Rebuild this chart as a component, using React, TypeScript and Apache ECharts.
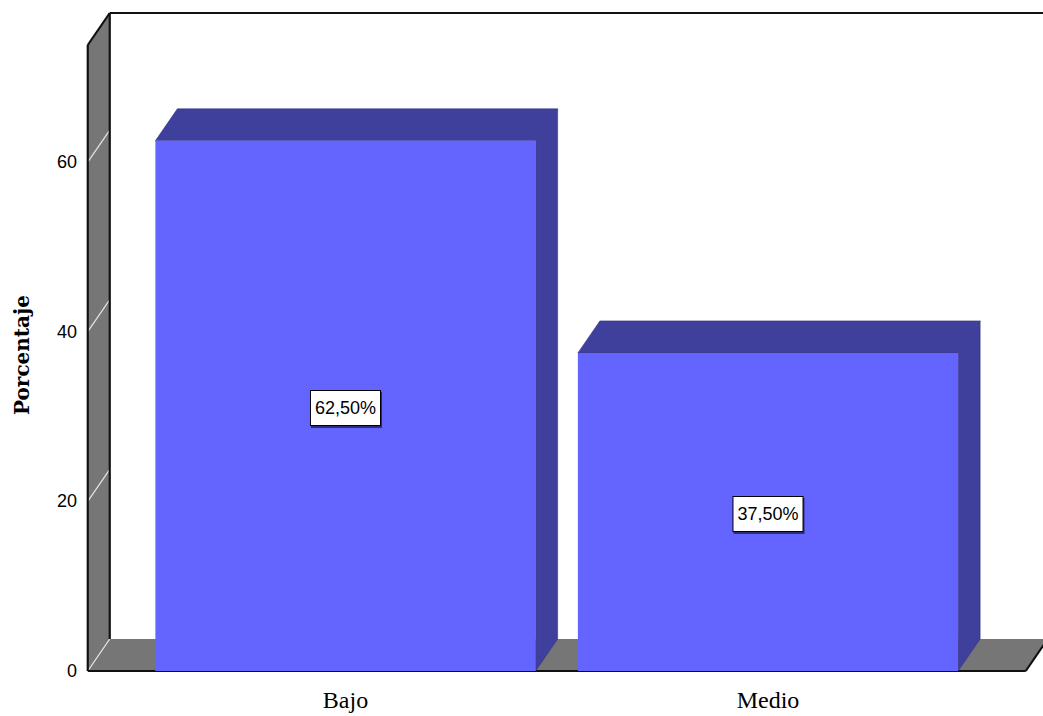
import React, { useEffect, useRef } from "react";
import * as echarts from "echarts";

const CATEGORIES = ["Bajo", "Medio"];
const PERCENTAGES = [62.5, 37.5];
const Y_TICKS = [0, 20, 40, 60];
const Y_MAX = 73.8;
const Y_INTERVAL = 20;
const AXIS_TITLE = "Porcentaje";

const DX = 22;
const DY = -32;
const PAD = 46.5;
const WALL = "#767676";
const FRONT = "#6464FF";
const DARK = "#3F3F9C";

function formatPct(v: number) {
  return v.toFixed(2).replace(".", ",") + "%";
}

export default function App() {
  const ref = useRef<HTMLDivElement>(null);
  useEffect(() => {
    if (!ref.current) return;
    const chart = echarts.init(ref.current, undefined, { renderer: "svg" });
    const option: any = {
      animation: false,
      backgroundColor: "#ffffff",
      grid: { left: 134.25, right: 63.75, top: 45, bottom: 45, containLabel: false },
      xAxis: {
        type: "category",
        data: CATEGORIES,
        axisLine: { show: false },
        axisTick: { show: false },
        splitLine: { show: false },
        axisLabel: {
          color: "#000",
          fontFamily: "'Liberation Serif', 'Times New Roman', serif",
          fontSize: 24,
          margin: 17,
        },
      },
      yAxis: {
        type: "value",
        min: 0,
        max: Y_MAX,
        interval: Y_INTERVAL,
        offset: 46.25,
        axisLine: { show: false },
        axisTick: { show: false },
        splitLine: { show: false },
        axisLabel: {
          color: "#000",
          fontFamily: "'Liberation Sans', Arial, sans-serif",
          fontSize: 18,
          margin: 11,
          showMaxLabel: false,
        },
        name: AXIS_TITLE,
        nameLocation: "middle",
        nameRotate: 90,
        nameGap: 56,
        nameTextStyle: {
          color: "#000",
          fontFamily: "'DejaVu Serif', serif",
          fontWeight: "bold",
          fontSize: 20,
          padding: [0, 0, 0, 6],
        },
      },
      series: [
        {
          type: "custom",
          z: 1,
          silent: true,
          clip: false,
          data: [[0, 0]],
          encode: { x: 0, y: 1 },
          renderItem: (params: any, api: any) => {
            const cs = params.coordSys;
            const L = cs.x - PAD;
            const R = cs.x + cs.width + PAD;
            const top = api.coord([0, Y_MAX])[1];
            const bot = api.coord([0, 0])[1];
            const right = 2000;
            const children: any[] = [];
            children.push({
              type: "polygon",
              shape: { points: [[L, top], [L + DX, top + DY], [L + DX, bot + DY], [L, bot]] },
              style: { fill: WALL },
            });
            children.push({
              type: "polygon",
              shape: { points: [[L, bot], [R, bot], [R + DX, bot + DY], [L + DX, bot + DY]] },
              style: { fill: WALL },
            });
            Y_TICKS.forEach((t) => {
              const y = api.coord([0, t])[1];
              children.push({
                type: "line",
                shape: { x1: L, y1: y, x2: L + DX, y2: y + DY },
                style: { stroke: "#e6e6e6", lineWidth: 1.2 },
              });
            });
            const black = { stroke: "#111", lineWidth: 2.2, fill: null };
            children.push({ type: "line", shape: { x1: L, y1: top, x2: L, y2: bot }, style: black });
            children.push({ type: "line", shape: { x1: L, y1: top, x2: L + DX, y2: top + DY }, style: black });
            children.push({ type: "line", shape: { x1: L + DX, y1: top + DY, x2: L + DX, y2: bot + DY }, style: black });
            children.push({ type: "line", shape: { x1: L + DX, y1: top + DY, x2: right, y2: top + DY }, style: black });
            children.push({ type: "line", shape: { x1: L, y1: bot, x2: R, y2: bot }, style: black });
            children.push({ type: "line", shape: { x1: R, y1: bot, x2: R + DX, y2: bot + DY }, style: black });
            return { type: "group", children };
          },
        },
        {
          type: "custom",
          z: 2,
          clip: false,
          data: PERCENTAGES.map((v, i) => [i, v]),
          encode: { x: 0, y: 1 },
          renderItem: (params: any, api: any) => {
            const idx = api.value(0);
            const val = api.value(1);
            const [cx, yt] = api.coord([idx, val]);
            const yb = api.coord([idx, 0])[1];
            const w = api.size([1, 0])[0] * 0.9;
            const x0 = cx - w / 2;
            const x1 = cx + w / 2;
            return {
              type: "group",
              children: [
                {
                  type: "polygon",
                  shape: { points: [[x1, yt], [x1 + DX, yt + DY], [x1 + DX, yb + DY], [x1, yb]] },
                  style: { fill: DARK, stroke: "#36368a", lineWidth: 0.6 },
                },
                {
                  type: "polygon",
                  shape: { points: [[x0, yt], [x1, yt], [x1 + DX, yt + DY], [x0 + DX, yt + DY]] },
                  style: { fill: DARK, stroke: "#36368a", lineWidth: 0.6 },
                },
                {
                  type: "rect",
                  shape: { x: x0, y: yt, width: w, height: yb - yt },
                  style: { fill: FRONT },
                },
                {
                  type: "text",
                  x: cx,
                  y: (yt + yb) / 2 + 2,
                  style: {
                    text: formatPct(val),
                    fill: "#000",
                    fontFamily: "'Liberation Sans', Arial, sans-serif",
                    fontSize: 18,
                    align: "center",
                    verticalAlign: "middle",
                    backgroundColor: "#ffffff",
                    borderColor: "#000",
                    borderWidth: 1,
                    padding: [8, 4, 8, 4],
                    shadowColor: "rgba(0,0,0,0.55)",
                    shadowOffsetX: 1,
                    shadowOffsetY: 2,
                    shadowBlur: 0,
                  },
                },
              ],
            };
          },
        },
      ],
    };
    chart.setOption(option);
    return () => chart.dispose();
  }, []);
  return (
    <div
      ref={ref}
      style={{ position: "fixed", left: 0, top: 0, width: 1043, height: 716, background: "#fff" }}
    />
  );
}
